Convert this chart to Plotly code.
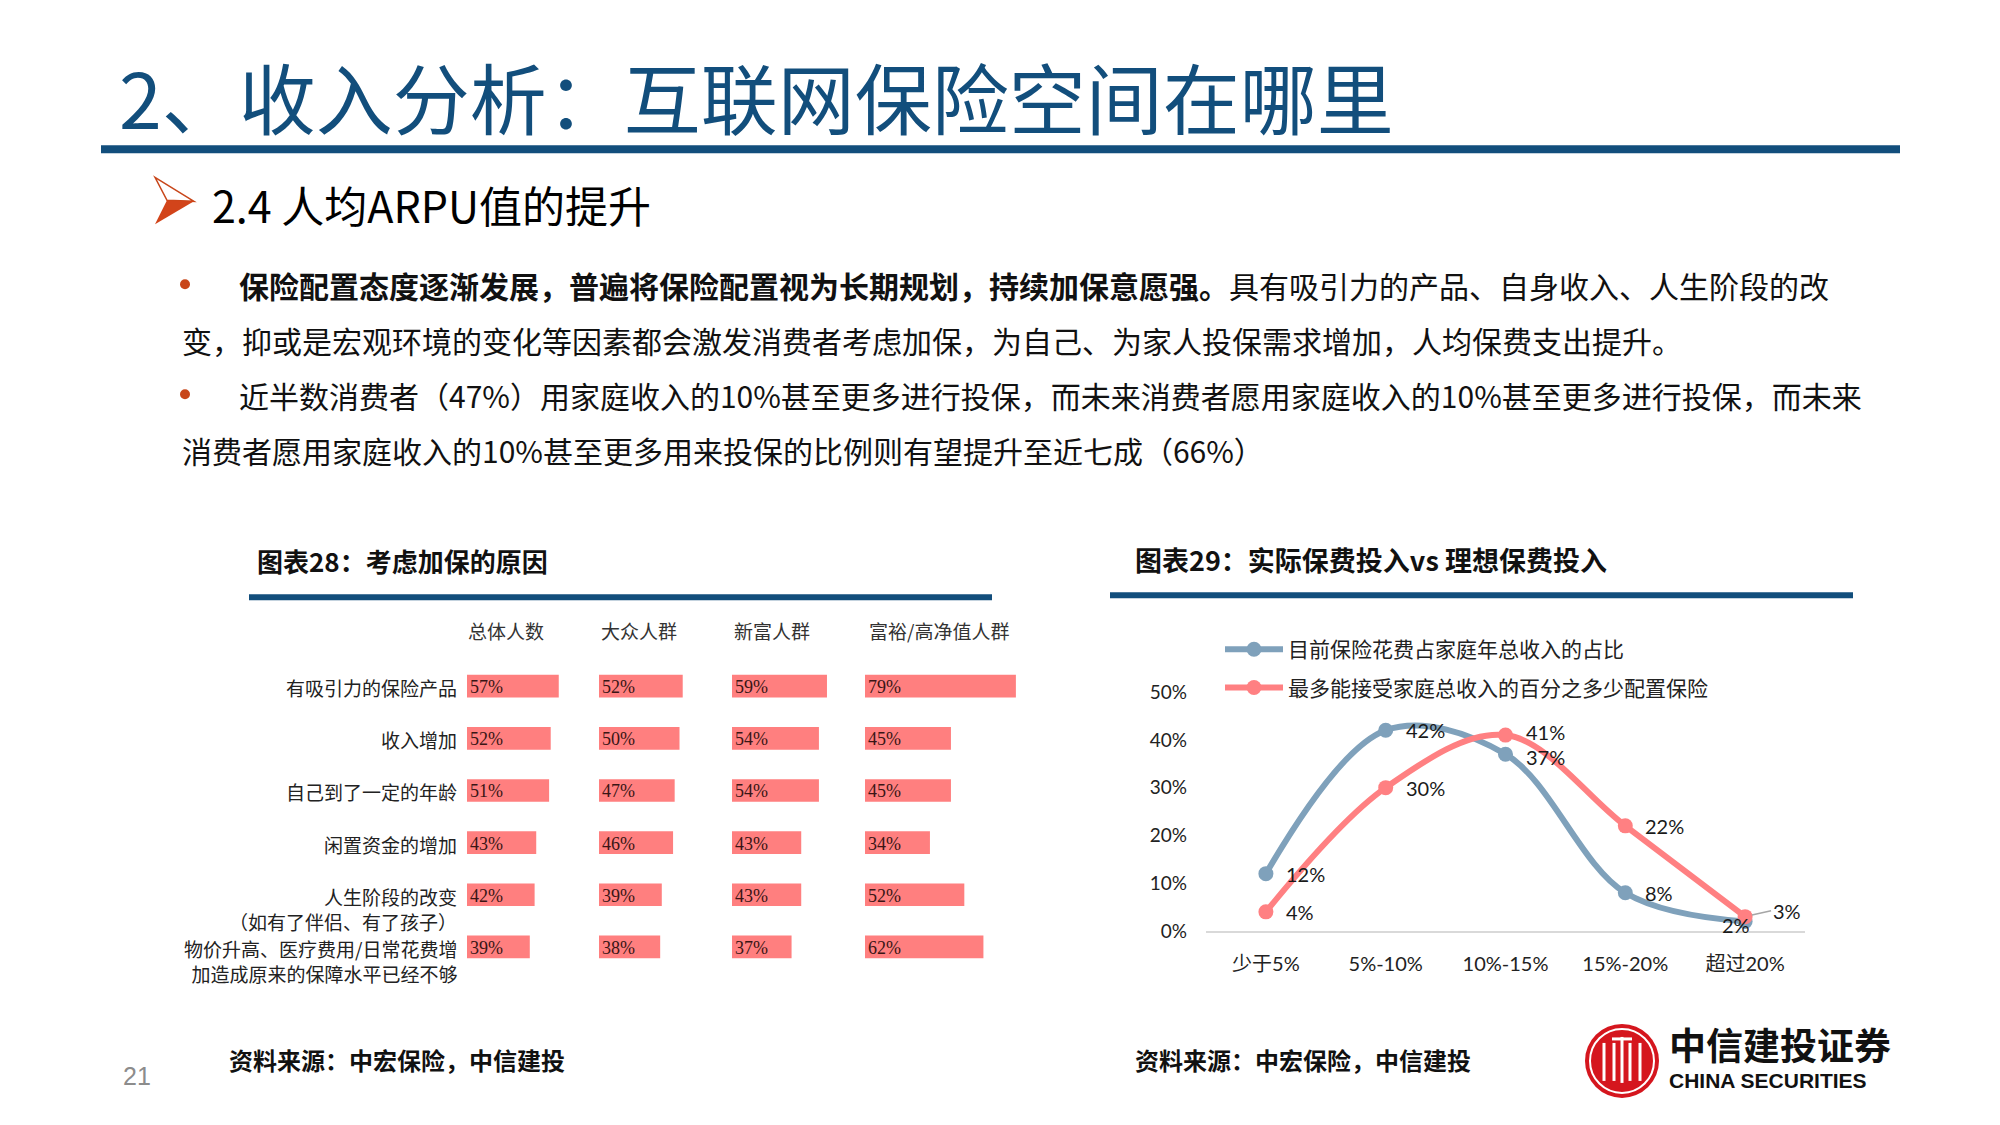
import plotly.graph_objects as go

W, H = 2000, 1125

# ---------------- data ----------------
reasons = [
    "有吸引力的保险产品",
    "收入增加",
    "自己到了一定的年龄",
    "闲置资金的增加",
    "人生阶段的改变<br>（如有了伴侣、有了孩子）",
    "物价升高、医疗费用/日常花费增<br>加造成原来的保障水平已经不够",
]
groups = ["总体人数", "大众人群", "新富人群", "富裕/高净值人群"]
overall = [57, 52, 51, 43, 42, 39]
mass = [52, 50, 47, 46, 39, 38]
new_rich = [59, 54, 54, 43, 43, 37]
affluent = [79, 45, 45, 34, 52, 62]

income_bins = ["少于5%", "5%-10%", "10%-15%", "15%-20%", "超过20%"]
current_share = [12, 42, 37, 8, 2]
max_accept = [4, 30, 41, 22, 3]
series_names = ["目前保险花费占家庭年总收入的占比", "最多能接受家庭总收入的百分之多少配置保险"]
y_ticks = [0, 10, 20, 30, 40, 50]

title_text = "2、收入分析：互联网保险空间在哪里"
subtitle_text = "2.4 人均ARPU值的提升"
para_lines = [
    "<b>保险配置态度逐渐发展，普遍将保险配置视为长期规划，持续加保意愿强。</b>具有吸引力的产品、自身收入、人生阶段的改",
    "变，抑或是宏观环境的变化等因素都会激发消费者考虑加保，为自己、为家人投保需求增加，人均保费支出提升。",
    "近半数消费者（47%）用家庭收入的10%甚至更多进行投保，而未来消费者愿用家庭收入的10%甚至更多进行投保，而未来",
    "消费者愿用家庭收入的10%甚至更多用来投保的比例则有望提升至近七成（66%）",
]
chart28_title = "图表28：考虑加保的原因"
chart29_title = "图表29：实际保费投入vs 理想保费投入"
source_text = "资料来源：中宏保险，中信建投"
page_no = "21"


def px(x):
    return x / W


def py(y):
    # vertical placement helper (pixel row from top -> paper fraction)
    return 1 - ((y - 10.6) / 0.98) / H


# ---------------- style ----------------
CJK = "Noto Sans CJK SC"
NUMF = "Lato, " + CJK
NAVY = "#124E7C"
BAR = "#FF7F7F"
BLUE = "#7FA1BB"
SALMON = "#FF8082"
DARK = "#1a1a1a"

fig = go.Figure()
annotations = []
shapes = []

# ---- chart 28: four bar columns sharing one category axis ----
col_values = [overall, mass, new_rich, affluent]
col_domains = [(467, 597), (599, 729), (732, 862), (865, 1020)]
col_ranges = [80.75, 80.75, 80.75, 81.15]
axis_ids = ["x", "x2", "x3", "x4"]
for vals, ax in zip(col_values, axis_ids):
    fig.add_trace(go.Bar(
        x=vals, y=reasons, orientation="h",
        xaxis=ax, yaxis="y",
        marker=dict(color=BAR, line=dict(width=0)),
        showlegend=False, hoverinfo="skip",
    ))
    for r, v in zip(reasons, vals):
        annotations.append(dict(
            x=0, xref=ax, y=r, yref="y", text=f"{v}%", showarrow=False,
            xanchor="left", xshift=1, yshift=-1,
            font=dict(family="Liberation Serif, " + CJK, size=18, color="#3a1515"),
        ))

layout_axes = {}
for i, (ax, (d0, d1), r) in enumerate(zip(axis_ids, col_domains, col_ranges)):
    key = "xaxis" if i == 0 else f"xaxis{i + 1}"
    layout_axes[key] = dict(
        domain=[px(d0), px(d1)], range=[0, r], anchor="y",
        showticklabels=False, showgrid=False, zeroline=False, showline=False,
        fixedrange=True,
    )
layout_axes["yaxis"] = dict(
    domain=[py(972), py(659)], type="category", categoryorder="array",
    categoryarray=reasons, range=[5.5, -0.5], anchor="x",
    showticklabels=False, showgrid=False, zeroline=False, showline=False,
)

# ---- chart 29: line chart ----
fig.add_trace(go.Scatter(
    x=income_bins, y=current_share, name=series_names[0],
    mode="lines+markers",
    line=dict(color=BLUE, width=6, shape="spline", smoothing=1.0),
    marker=dict(color=BLUE, size=15),
    xaxis="x5", yaxis="y5", cliponaxis=False, legendgroup="a",
))
fig.add_trace(go.Scatter(
    x=income_bins, y=max_accept, name=series_names[1],
    mode="lines+markers",
    line=dict(color=SALMON, width=6, shape="spline", smoothing=1.0),
    marker=dict(color=SALMON, size=15),
    xaxis="x5", yaxis="y5", cliponaxis=False, legendgroup="b",
))
layout_axes["xaxis5"] = dict(
    domain=[px(1206), px(1805)], type="category", range=[-0.5, 4.5], anchor="y5",
    showline=True, linecolor="#D9D9D9", linewidth=2, ticks="",
    showgrid=False, zeroline=False, ticklabelstandoff=14,
    tickfont=dict(family=NUMF, size=20, color="#222"),
)
layout_axes["yaxis5"] = dict(
    domain=[py(930), py(691)], range=[0, 50], anchor="x5",
    tickvals=y_ticks, ticktext=[f"{v}%" for v in y_ticks],
    showgrid=False, zeroline=False, showline=False, ticks="",
    ticklabelstandoff=18,
    tickfont=dict(family=NUMF, size=19, color="#222"),
)


def text(x, y, t, size, color=DARK, xanchor="left", family=CJK, yanchor="middle"):
    annotations.append(dict(
        x=px(x), y=py(y), xref="paper", yref="paper", text=t, showarrow=False,
        xanchor=xanchor, yanchor=yanchor,
        font=dict(family=family, size=size, color=color),
    ))


def rect(x0, y0, x1, y1, color):
    shapes.append(dict(type="rect", xref="paper", yref="paper",
                       x0=px(x0), y0=py(y1), x1=px(x1), y1=py(y0),
                       fillcolor=color, line=dict(width=0), layer="below"))


def circle(x0, y0, x1, y1, fill, line_color=None, lw=0):
    shapes.append(dict(type="circle", xref="paper", yref="paper",
                       x0=px(x0), x1=px(x1), y0=py(y1), y1=py(y0),
                       fillcolor=fill, line=dict(color=line_color or fill, width=lw)))


def line(x0, y0, x1, y1, color, lw):
    shapes.append(dict(type="line", xref="paper", yref="paper",
                       x0=px(x0), x1=px(x1), y0=py(y0), y1=py(y1),
                       line=dict(color=color, width=lw)))


def path(points, fill, line_color=None, lw=0):
    d = "M" + " L".join(f"{px(a):.5f},{py(b):.5f}" for a, b in points) + " Z"
    shapes.append(dict(type="path", xref="paper", yref="paper", path=d,
                       fillcolor=fill,
                       line=dict(color=line_color or fill, width=lw)))


# header
text(117, 94, title_text, 77, color=NAVY)
rect(101, 144, 1900, 152, NAVY)

# subtitle arrow + text
path([(155, 176), (194, 200), (167, 199)], "white", "#C8461A", 1.5)
path([(167, 199), (194, 200), (155, 223)], "#D2441A")
text(210, 203, subtitle_text, 43, color="#000")

# bullets + paragraph
circle(180, 278, 190, 288, "#C8461A")
circle(180, 388, 190, 398, "#C8461A")
para_x = [237, 180, 237, 180]
para_y = [284, 339, 394, 449]
for lx, ly, t in zip(para_x, para_y, para_lines):
    text(lx, ly, t, 30, color="#111")

# chart titles + rules
text(255, 559, "<b>" + chart28_title + "</b>", 26, color="#111")
rect(249, 593, 992, 599, NAVY)
text(1133, 558, "<b>" + chart29_title + "</b>", 27, color="#111")
rect(1110, 591, 1853, 597, NAVY)

# column headers of chart 28
for g, cx in zip(groups, [506, 639, 772, 939]):
    text(cx, 629, g, 19, color="#333", xanchor="center")

# category labels of chart 28 (first line aligned with bar)
for r in reasons:
    annotations.append(dict(
        x=0, xref="x domain", y=r, yref="y", text=r, showarrow=False,
        xanchor="right", yanchor="top", align="right", xshift=-8, yshift=14,
        font=dict(family=CJK, size=19, color="#222"),
    ))

# data labels of the line chart
label_dy_a = [0, 0, -3, 0, None]
label_dy_b = [0, 0, 3, 0, None]
for vals, dys in ((current_share, label_dy_a), (max_accept, label_dy_b)):
    for cat, v, dy in zip(income_bins, vals, dys):
        if dy is None:
            continue
        annotations.append(dict(
            x=cat, y=v, xref="x5", yref="y5", text=f"{v}%", showarrow=False,
            xanchor="left", xshift=18, yshift=dy,
            font=dict(family=NUMF, size=20, color=DARK),
        ))
annotations.append(dict(
    x=income_bins[-1], y=current_share[-1], xref="x5", yref="y5",
    text=f"{current_share[-1]}%", showarrow=False, xshift=-9, yshift=-4,
    font=dict(family=NUMF, size=20, color=DARK),
))
annotations.append(dict(
    x=income_bins[-1], y=max_accept[-1], xref="x5", yref="y5",
    text=f"{max_accept[-1]}%", showarrow=True, arrowhead=0, arrowwidth=1.5,
    arrowcolor="#A6A6A6", ax=26, ay=-6, xanchor="left", standoff=7,
    font=dict(family=NUMF, size=20, color=DARK),
))

# footer
text(121, 1075, page_no, 25, color="#8c8c8c", family="Liberation Sans Narrow, Liberation Sans")
text(227, 1059, "<b>" + source_text + "</b>", 24, color="#111")
text(1133, 1059, "<b>" + source_text + "</b>", 24, color="#111")

# logo
circle(1585, 1023, 1659, 1097, "#D5161E")
circle(1590, 1028, 1654, 1092, "rgba(0,0,0,0)", "white", 2)
for lx in (1604, 1614, 1630, 1640):
    line(lx, 1042, lx, 1080, "white", 3)
line(1622, 1036, 1622, 1082, "white", 3)
line(1612, 1038, 1632, 1038, "white", 3)
text(1667, 1043, "<b>中信建投证券</b>", 37, color="#111")
text(1667, 1080, "<b>CHINA SECURITIES</b>", 21, color="#111", family="Liberation Sans")

fig.update_layout(
    width=W, height=H,
    margin=dict(l=0, r=0, t=0, b=0),
    paper_bgcolor="white", plot_bgcolor="white",
    font=dict(family=CJK, color=DARK),
    bargap=0.565,
    showlegend=True,
    legend=dict(
        x=px(1220), y=py(628), xanchor="left", yanchor="top",
        font=dict(family=CJK, size=21, color="#222"),
        bgcolor="rgba(0,0,0,0)", tracegroupgap=8, itemwidth=58,
        traceorder="grouped",
    ),
    annotations=annotations,
    shapes=shapes,
    **layout_axes,
)

fig.write_html("out.html")
